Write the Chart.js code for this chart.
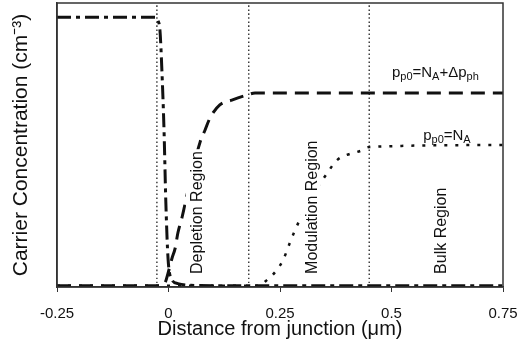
<!DOCTYPE html>
<html>
<head>
<meta charset="utf-8">
<script src="https://cdn.jsdelivr.net/npm/chart.js@4/dist/chart.umd.min.js"></script>
<style>
  html, body { margin: 0; padding: 0; background: #fff; }
  #wrap { width: 517px; height: 354px; }
</style>
</head>
<body>
<div id="wrap"><canvas id="myChart"></canvas></div>
<script>
// x axis
var xTicks = [-0.25, 0, 0.25, 0.5, 0.75];

// region boundaries (vertical dotted lines) and names
var boundaries = [-0.026, 0.18, 0.45];
var regionNames = ["Depletion Region", "Modulation Region", "Bulk Region"];
var regionCenters = [0.066, 0.322, 0.613];

// dash-dot curve (n side, drops at the junction)
var nX = [-0.25, -0.04, -0.03, -0.024, -0.019, -0.015, -0.010, -0.006, -0.001, 0.006, 0.021, 0.05, 0.2, 0.75];
var nY = [0.95, 0.95, 0.95, 0.94, 0.90, 0.77, 0.55, 0.30, 0.10, 0.03, 0.012, 0.006, 0.004, 0.004];

// dashed curve: p_p0 = N_A + delta p_ph
var phX = [-0.25, -0.02, -0.008, -0.001, 0.008, 0.015, 0.021, 0.03, 0.048, 0.071, 0.082, 0.093, 0.115, 0.142, 0.176, 0.194, 0.75];
var phY = [0.004, 0.004, 0.014, 0.049, 0.102, 0.137, 0.19, 0.243, 0.37, 0.511, 0.553, 0.595, 0.641, 0.658, 0.676, 0.683, 0.683];

// dotted curve: p_p0 = N_A
var naX = [-0.25, 0.20, 0.221, 0.243, 0.257, 0.272, 0.281, 0.317, 0.351, 0.378, 0.40, 0.43, 0.45, 0.75];
var naY = [0.004, 0.004, 0.025, 0.06, 0.095, 0.155, 0.19, 0.31, 0.39, 0.447, 0.465, 0.479, 0.493, 0.5];

function pts(xs, ys) {
  return xs.map(function (x, i) { return { x: x, y: ys[i] }; });
}

var ink = "#111";
var datasets = [
  { data: pts(nX, nY), borderDash: [14, 5, 4, 5], borderWidth: 3 },
  { data: pts(phX, phY), borderDash: [14, 8], borderWidth: 3 },
  { data: pts(naX, naY), borderDash: [3, 8], borderWidth: 2.5 }
];
boundaries.forEach(function (b) {
  datasets.push({ data: [{ x: b, y: 0 }, { x: b, y: 1 }], borderDash: [1.5, 2.5], borderWidth: 1.2 });
});
datasets.forEach(function (d) {
  d.borderColor = ink;
  d.pointRadius = 0;
  d.fill = false;
  d.cubicInterpolationMode = "monotone";
});

var font = "'Liberation Sans', Arial, sans-serif";

// frame + text annotations
var annotations = {
  id: "annotations",
  afterDatasetsDraw: function (chart) {
    var ctx = chart.ctx, a = chart.chartArea;
    var xs = chart.scales.x, ys = chart.scales.y;
    ctx.save();
    ctx.strokeStyle = "#333";
    ctx.lineWidth = 1.5;
    ctx.strokeRect(a.left, a.top, a.right - a.left, a.bottom - a.top);

    ctx.font = "16px " + font;
    ctx.textAlign = "left";
    ctx.textBaseline = "middle";
    regionNames.forEach(function (name, i) {
      var w = ctx.measureText(name).width;
      ctx.save();
      ctx.translate(xs.getPixelForValue(regionCenters[i]), ys.getPixelForValue(0.046));
      ctx.rotate(-Math.PI / 2);
      // white text box, as in the original figure
      ctx.fillStyle = "#fff";
      ctx.fillRect(-1, -12, w + 3, 20);
      ctx.fillStyle = ink;
      ctx.fillText(name, 0, 0);
      ctx.restore();
    });

    function subLabel(parts, x, y) {
      ctx.fillStyle = ink;
      ctx.textBaseline = "alphabetic";
      parts.forEach(function (p) {
        ctx.font = (p[1] ? "11px " : "15px ") + font;
        ctx.fillText(p[0], x, y + (p[1] ? 3 : 0));
        x += ctx.measureText(p[0]).width;
      });
    }
    subLabel([["p", 0], ["p0", 1], ["=N", 0], ["A", 1], ["+\u0394p", 0], ["ph", 1]],
      xs.getPixelForValue(0.501), ys.getPixelForValue(0.739));
    subLabel([["p", 0], ["p0", 1], ["=N", 0], ["A", 1]],
      xs.getPixelForValue(0.571), ys.getPixelForValue(0.516));
    ctx.restore();
  }
};

const myChart = new Chart("myChart", {
  type: "line",
  data: { datasets: datasets },
  options: {
    responsive: true,
    maintainAspectRatio: false,
    animation: false,
    layout: { padding: { top: 3, right: 14, left: 0, bottom: 0 } },
    plugins: { legend: { display: false }, tooltip: { enabled: false } },
    scales: {
      x: {
        type: "linear",
        min: -0.25,
        max: 0.75,
        afterBuildTicks: function (scale) {
          scale.ticks = xTicks.map(function (v) { return { value: v }; });
        },
        afterFit: function (scale) {
          scale.height = 67;
          scale.paddingLeft = 0;
          scale.paddingRight = 0;
        },
        ticks: {
          color: ink,
          font: { family: font, size: 15 },
          padding: 13,
          maxRotation: 0,
          callback: function (v) { return String(v); }
        },
        grid: { drawOnChartArea: false, drawTicks: true, tickLength: 5, color: "#333" },
        border: { display: true, color: "#333", width: 1.5 },
        title: {
          display: true,
          text: "Distance from junction (\u03bcm)",
          color: ink,
          font: { family: font, size: 20 },
          padding: { top: 0, bottom: 13 }
        }
      },
      y: {
        min: 0,
        max: 1,
        afterFit: function (scale) { scale.width = 57; },
        ticks: { display: false },
        grid: { display: false },
        border: { display: true, color: "#333", width: 1.5 },
        title: {
          display: true,
          text: "Carrier Concentration (cm\u207b\u00b3)",
          color: ink,
          font: { family: font, size: 21 },
          padding: { top: 9, bottom: 0 }
        }
      }
    }
  },
  plugins: [annotations]
});
</script>
</body>
</html>
